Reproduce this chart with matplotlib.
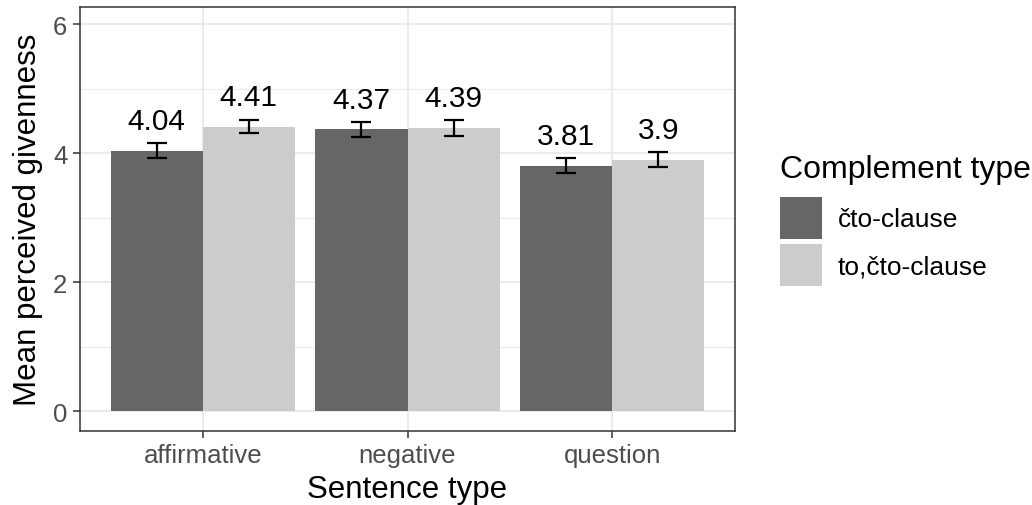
import numpy as np
import matplotlib.pyplot as plt
from matplotlib.patches import Patch

plt.rcParams['font.family'] = ['Liberation Sans', 'DejaVu Sans']

# mean givenness by sentence type and complement type
sentence_types = ['affirmative', 'negative', 'question']
complement_types = ['čto-clause', 'to,čto-clause']
means_cto = [4.04, 4.37, 3.81]
means_tocto = [4.41, 4.39, 3.90]
se_cto = [0.12, 0.12, 0.12]
se_tocto = [0.10, 0.12, 0.12]

colors = ['#666666', '#CCCCCC']
width = 0.45

fig = plt.figure(figsize=(10.32, 5.06), dpi=100)
ax = fig.add_axes([80 / 1032, 74 / 506, 655 / 1032, 424 / 506])

x = np.arange(1, len(sentence_types) + 1)
series = [(means_cto, se_cto), (means_tocto, se_tocto)]
for i, (m, se) in enumerate(series):
    xpos = x + (i - 0.5) * width
    ax.bar(xpos, m, width=width, color=colors[i], zorder=2,
           label=complement_types[i])
    ax.errorbar(xpos, m, yerr=se, fmt='none', ecolor='black',
                elinewidth=1.6, capsize=7.5, capthick=1.6, zorder=3)
    for xp, v in zip(xpos, m):
        ax.text(xp, v + 0.34, f'{v:g}', ha='center', va='baseline',
                fontsize=21.5, color='black', zorder=4)

ax.set_xlim(0.4, 3.6)
ax.set_ylim(-0.31, 6.27)
ax.set_xticks(x)
ax.set_xticklabels(sentence_types)
ax.set_yticks([0, 2, 4, 6])
ax.set_yticks([1, 3, 5], minor=True)
ax.tick_params(axis='both', which='major', labelsize=18.5, labelcolor='#4D4D4D',
               color='#333333', length=5, width=1.1, pad=4)
ax.tick_params(axis='y', which='minor', length=0)
ax.grid(which='major', color='#EBEBEB', linewidth=1.5, zorder=0)
ax.grid(which='minor', axis='y', color='#EBEBEB', linewidth=0.8, zorder=0)
ax.set_axisbelow(True)
for s in ax.spines.values():
    s.set_color('#333333')
    s.set_linewidth(1.1)

ax.set_xlabel('Sentence type', fontsize=22.5, labelpad=5)
ax.set_ylabel('Mean perceived givenness', fontsize=22.5, labelpad=7)

handles = [Patch(facecolor=c, edgecolor='none') for c in colors]
leg = ax.legend(handles, complement_types, title='Complement type',
                loc='center left', bbox_to_anchor=(1.068, 0.497),
                frameon=False, fontsize=19, title_fontsize=23,
                handlelength=1.6, handleheight=2.07, handletextpad=0.6,
                labelspacing=0.2, alignment='left', borderaxespad=0,
                borderpad=0)
leg._legend_box.sep = 9

fig.savefig('out.png', dpi=100)
